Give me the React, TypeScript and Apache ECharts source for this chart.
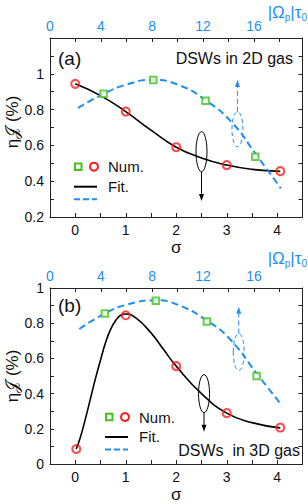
import React, { useEffect, useRef } from "react";
import * as echarts from "echarts";

// ---------- data ----------
// Panel (a): DSWs in 2D gas
const NUM_SIGMA_A: [number, number][] = [
  [0, 0.944], [1, 0.789], [2, 0.59], [3, 0.49], [4.06, 0.456],
];
const FIT_SIGMA_A: [number, number][] = [
  [0, 0.944], [0.5, 0.878], [1, 0.789], [1.5, 0.685], [2, 0.59],
  [2.5, 0.53], [3, 0.49], [3.5, 0.466], [4.06, 0.455],
];
const NUM_OMEGA_A: [number, number][] = [
  [4.2, 0.888], [8.1, 0.966], [12.2, 0.85], [16.1, 0.536],
];
const FIT_OMEGA_A: [number, number][] = [
  [2.2, 0.81], [4.2, 0.888], [6, 0.94], [8, 0.966], [10, 0.94],
  [12.2, 0.853], [14.3, 0.725], [16.1, 0.555], [18.1, 0.36],
];
// Panel (b): DSWs in 3D gas
const NUM_SIGMA_B: [number, number][] = [
  [0.02, 0.085], [1, 0.845], [2, 0.556], [3, 0.289], [4.06, 0.207],
];
const FIT_SIGMA_B: [number, number][] = [
  [0.02, 0.085], [0.1, 0.15], [0.2, 0.255], [0.3, 0.37], [0.4, 0.485],
  [0.5, 0.59], [0.6, 0.69], [0.7, 0.765], [0.8, 0.815], [0.9, 0.845],
  [1.0, 0.852], [1.2, 0.83], [1.5, 0.745], [1.75, 0.65], [2, 0.556],
  [2.5, 0.4], [3, 0.289], [3.5, 0.235], [4.06, 0.205],
];
const NUM_OMEGA_B: [number, number][] = [
  [4.3, 0.855], [8.3, 0.927], [12.3, 0.81], [16.2, 0.5],
];
const FIT_OMEGA_B: [number, number][] = [
  [2.3, 0.767], [4.3, 0.855], [6, 0.905], [8.3, 0.93], [10, 0.905],
  [12.3, 0.815], [14.1, 0.71], [16.2, 0.515], [18.2, 0.33],
];

const SIGMA_TICKS = [0, 1, 2, 3, 4];
const OMEGA_TICKS = [0, 4, 8, 12, 16];
const PANEL_LABELS = ["(a)", "(b)"];
const PANEL_TITLES = ["DSWs in 2D gas", "DSWs  in 3D gas"];
const LEGEND_TEXT = ["Num.", "Fit."];

const RED = "#ff1a1a";
const GREEN = "#44c21a";
const BLUE = "#1f8ef1";
const FONT = "Liberation Sans";

export default function App() {
  const ref = useRef<HTMLDivElement>(null);
  useEffect(() => {
    if (!ref.current) return;
    const chart = echarts.init(ref.current, undefined, { renderer: "svg" });

    const near = (v: number, arr: number[]) =>
      arr.some((t) => Math.abs(t - v) < 1e-6);
    const sigmaFmt = (v: number) => (near(v, SIGMA_TICKS) ? String(Math.round(v)) : "");
    const omegaFmt = (v: number) => (near(v, OMEGA_TICKS) ? String(Math.round(v)) : "");
    const yFmt = (v: number) => {
      const r = Math.round(v * 10);
      if (r % 2 !== 0 || r > 10) return "";
      return r === 10 ? "1" : r === 0 ? "0" : (r / 10).toFixed(1);
    };

    const axisLine = { show: true, onZero: false, lineStyle: { color: "#222", width: 1 } };
    const tick = { show: true, inside: true, length: 4, lineStyle: { color: "#222" } };

    const grids = [
      { left: 50, right: 5.5, top: 38, height: 179 },
      { left: 50, right: 5.5, top: 288, height: 178 },
    ];

    const xAxes: any[] = [];
    const yAxes: any[] = [];
    [0, 1].forEach((g) => {
      xAxes.push({
        type: "value", gridIndex: g, position: "bottom", min: -0.5, max: 4.5, interval: 0.5,
        axisLine, axisTick: tick, splitLine: { show: false },
        axisLabel: { formatter: sigmaFmt, interval: 0, color: "#111", fontSize: 14, fontFamily: FONT, margin: 6 },
        name: "σ", nameLocation: "middle", nameGap: 22,
        nameTextStyle: { fontSize: 17, color: "#111", fontFamily: FONT },
      });
      xAxes.push({
        type: "value", gridIndex: g, position: "top", min: 0, max: 19.8, interval: 2,
        axisLine, axisTick: tick, splitLine: { show: false },
        axisLabel: { formatter: omegaFmt, interval: 0, color: BLUE, fontSize: 14, fontFamily: FONT, margin: 5, showMaxLabel: false },
      });
      const ymin = g === 0 ? 0.2 : 0;
      const ymax = g === 0 ? 1.2 : 1;
      yAxes.push({
        type: "value", gridIndex: g, position: "left", min: ymin, max: ymax, interval: 0.1,
        axisLine, axisTick: tick, splitLine: { show: false },
        axisLabel: { formatter: yFmt, interval: 0, color: "#111", fontSize: 14, fontFamily: FONT, margin: 6 },
      });
      yAxes.push({
        type: "value", gridIndex: g, position: "right", min: ymin, max: ymax, interval: 0.1,
        axisLine, axisTick: tick, splitLine: { show: false }, axisLabel: { show: false },
      });
    });

    const numCircle = (data: [number, number][], xi: number, yi: number) => ({
      type: "scatter", xAxisIndex: xi, yAxisIndex: yi, data, symbol: "circle", symbolSize: 8,
      itemStyle: { color: "rgba(255,255,255,0)", borderColor: RED, borderWidth: 2 }, z: 5,
    });
    const numSquare = (data: [number, number][], xi: number, yi: number) => ({
      type: "scatter", xAxisIndex: xi, yAxisIndex: yi, data, symbol: "rect", symbolSize: 6.5,
      itemStyle: { color: "#fff", borderColor: GREEN, borderWidth: 2 }, z: 5,
    });
    const fitBlack = (data: [number, number][], xi: number, yi: number) => ({
      type: "line", xAxisIndex: xi, yAxisIndex: yi, data, smooth: 0.5, showSymbol: false, symbol: "none",
      lineStyle: { color: "#000", width: 1.6 }, z: 3,
    });
    const fitBlue = (data: [number, number][], xi: number, yi: number) => ({
      type: "line", xAxisIndex: xi, yAxisIndex: yi, data, smooth: 0.5, showSymbol: false, symbol: "none",
      lineStyle: { color: BLUE, width: 2, type: [7, 4] }, z: 3,
    });

    const series = [
      fitBlack(FIT_SIGMA_A, 0, 0), fitBlue(FIT_OMEGA_A, 1, 0),
      numSquare(NUM_OMEGA_A, 1, 0), numCircle(NUM_SIGMA_A, 0, 0),
      fitBlack(FIT_SIGMA_B, 2, 2), fitBlue(FIT_OMEGA_B, 3, 2),
      numSquare(NUM_OMEGA_B, 3, 2), numCircle(NUM_SIGMA_B, 2, 2),
    ];

    chart.setOption({
      animation: false,
      backgroundColor: "#fff",
      textStyle: { fontFamily: FONT },
      grid: grids,
      xAxis: xAxes,
      yAxis: yAxes,
      series,
    });

    const px = (xi: number, v: number) => chart.convertToPixel({ xAxisIndex: xi }, v) as number;
    const py = (yi: number, v: number) => chart.convertToPixel({ yAxisIndex: yi }, v) as number;

    const graphics: any[] = [];
    const annos = [
      { xi: 0, x: 2.5, yi: 0, yc: 0.565, ry: 20, tip: 0.29, color: "#000", up: false },
      { xi: 1, x: 14.7, yi: 0, yc: 0.69, ry: 17.5, tip: 0.966, color: BLUE, up: true },
      { xi: 2, x: 2.55, yi: 2, yc: 0.4, ry: 19, tip: 0.183, color: "#000", up: false },
      { xi: 3, x: 14.8, yi: 2, yc: 0.636, ry: 18.5, tip: 0.894, color: BLUE, up: true },
    ];
    annos.forEach((a) => {
      const cx = px(a.xi, a.x);
      const cy = py(a.yi, a.yc);
      const tipY = py(a.yi, a.tip);
      const dashed = a.color === BLUE;
      graphics.push({
        type: "ellipse", shape: { cx, cy, rx: 5.5, ry: a.ry }, silent: true,
        style: { fill: "none", stroke: a.color, lineWidth: 1, lineDash: dashed ? [4, 3] : null }, z: 10,
      });
      const startY = a.up ? cy - a.ry : cy + a.ry;
      const headLen = 7;
      const endY = a.up ? tipY + headLen : tipY - headLen;
      graphics.push({
        type: "line", shape: { x1: cx, y1: startY, x2: cx, y2: endY }, silent: true,
        style: { stroke: a.color, lineWidth: 1, lineDash: dashed ? [5, 3] : null }, z: 10,
      });
      graphics.push({
        type: "polygon", silent: true, z: 10,
        shape: { points: [[cx - 2.5, endY], [cx + 2.5, endY], [cx, tipY]] },
        style: { fill: a.color, stroke: "none" },
      });
    });

    const panels = [
      { labelY: 58, titleRight: 293, titleY: 58, legX: 74, legY: 166.7, yLab: 122, topTitle: 12 },
      { labelY: 305, titleRight: 300, titleY: 450, legX: 105, legY: 417, yLab: 376, topTitle: 258 },
    ];
    panels.forEach((p, i) => {
      graphics.push({
        type: "text", x: 58, y: p.labelY, silent: true, z: 12,
        style: { text: PANEL_LABELS[i], fontSize: 19, fill: "#111", fontFamily: FONT, verticalAlign: "middle", align: "left" },
      });
      graphics.push({
        type: "text", x: p.titleRight, y: p.titleY, silent: true, z: 12,
        style: { text: PANEL_TITLES[i], fontSize: 16, fill: "#111", fontFamily: FONT, verticalAlign: "middle", align: "right" },
      });
      const lx = p.legX;
      const ly = p.legY;
      graphics.push({
        type: "rect", silent: true, z: 12,
        shape: { x: lx + 1, y: ly - 3.25, width: 6.5, height: 6.5 },
        style: { fill: "#fff", stroke: GREEN, lineWidth: 2 },
      });
      graphics.push({
        type: "circle", silent: true, z: 12,
        shape: { cx: lx + 20, cy: ly, r: 4 },
        style: { fill: "none", stroke: RED, lineWidth: 2 },
      });
      graphics.push({
        type: "text", x: lx + 34, y: ly, silent: true, z: 12,
        style: { text: LEGEND_TEXT[0], fontSize: 15, fill: "#111", fontFamily: FONT, verticalAlign: "middle" },
      });
      graphics.push({
        type: "line", silent: true, z: 12,
        shape: { x1: lx, y1: ly + 20, x2: lx + 23, y2: ly + 20 },
        style: { stroke: "#000", lineWidth: 2 },
      });
      graphics.push({
        type: "text", x: lx + 34, y: ly + 19.5, silent: true, z: 12,
        style: { text: LEGEND_TEXT[1], fontSize: 15, fill: "#111", fontFamily: FONT, verticalAlign: "middle" },
      });
      graphics.push({
        type: "line", silent: true, z: 12,
        shape: { x1: lx, y1: ly + 32.5, x2: lx + 23, y2: ly + 32.5 },
        style: { stroke: BLUE, lineWidth: 2, lineDash: [6, 3] },
      });
      graphics.push({
        type: "text", x: 12, y: p.yLab, rotation: Math.PI / 2, silent: true, z: 12,
        style: {
          text: "{a|η}{j|𝒥}{a| (%)}", align: "center", verticalAlign: "middle", fill: "#111",
          rich: {
            a: { fontSize: 17, fontFamily: FONT, fill: "#111" },
            j: { fontSize: 17, fontFamily: "DejaVu Sans", fill: "#111" },
          },
        },
      });
      graphics.push({
        type: "text", x: 307, y: p.topTitle, silent: true, z: 12,
        style: {
          text: "{a||Ω}{s|p}{a||τ}{s|0}", align: "right", verticalAlign: "middle",
          rich: {
            a: { fontSize: 17, fontFamily: FONT, fill: BLUE, lineHeight: 20 },
            s: { fontSize: 10, fontFamily: FONT, fill: BLUE, lineHeight: 12, verticalAlign: "bottom" },
          },
        },
      });
    });

    chart.setOption({ graphic: graphics });
    return () => chart.dispose();
  }, []);

  return (
    <div
      ref={ref}
      style={{ position: "fixed", left: 0, top: 0, width: 308, height: 504, background: "#fff" }}
    />
  );
}
